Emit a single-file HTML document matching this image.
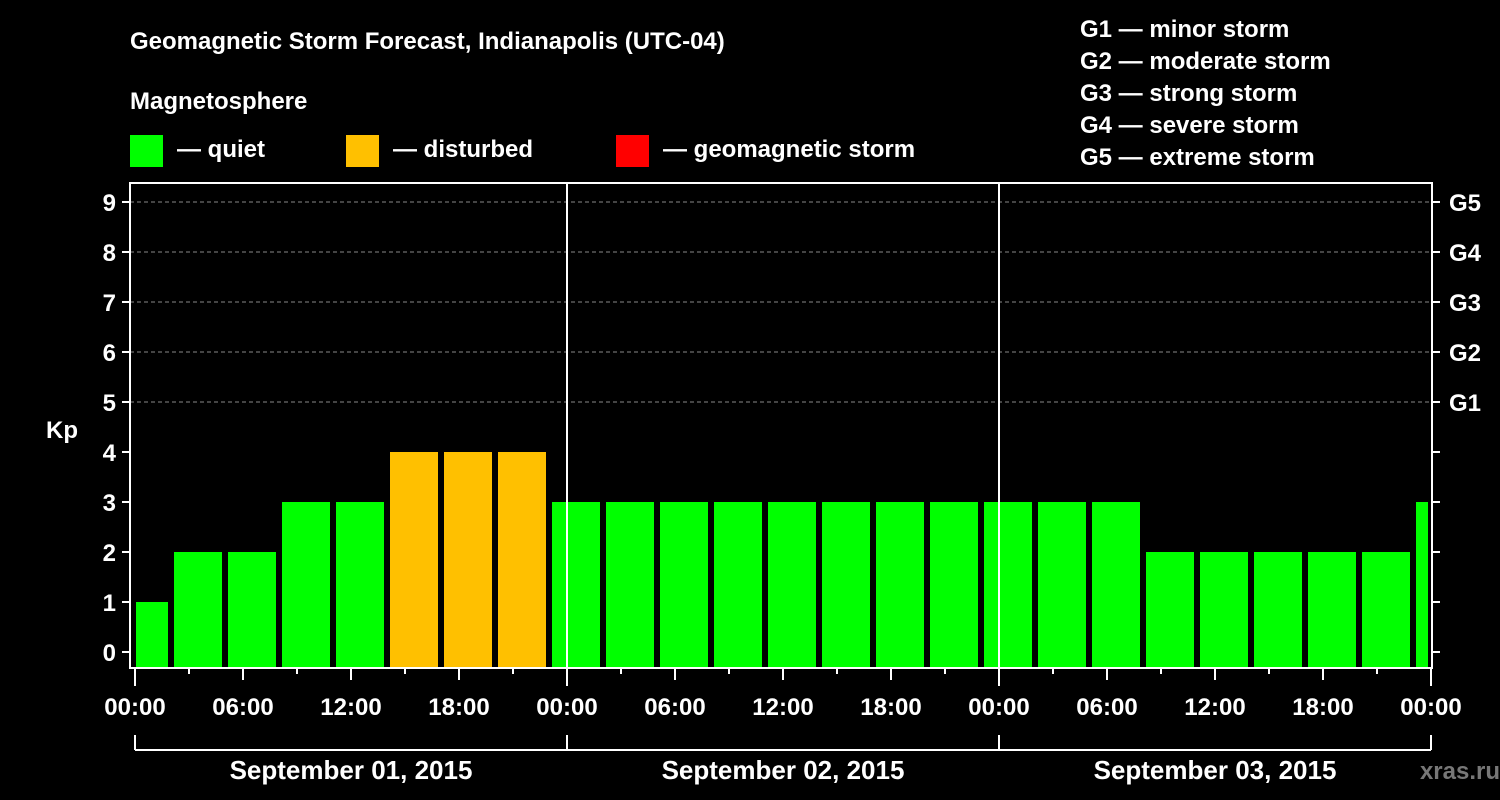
<!DOCTYPE html>
<html><head><meta charset="utf-8"><style>
html,body{margin:0;padding:0;background:#000;width:1500px;height:800px;overflow:hidden}
svg text{font-family:"Liberation Sans",sans-serif;font-weight:bold;fill:#fff}
</style></head><body>
<svg id="chart" width="1500" height="800" xmlns="http://www.w3.org/2000/svg">
<rect width="1500" height="800" fill="#000"/>
<text x="130" y="49" font-size="24">Geomagnetic Storm Forecast, Indianapolis (UTC-04)</text>
<text x="130" y="109" font-size="24">Magnetosphere</text>
<g><rect x="130" y="135" width="33" height="32" fill="#00ff00"/><text x="177" y="157" font-size="24">— quiet</text></g>
<g><rect x="346" y="135" width="33" height="32" fill="#ffc000"/><text x="393" y="157" font-size="24">— disturbed</text></g>
<g><rect x="616" y="135" width="33" height="32" fill="#ff0000"/><text x="663" y="157" font-size="24">— geomagnetic storm</text></g>
<g font-size="24">
<text x="1080" y="37">G1 — minor storm</text>
<text x="1080" y="69">G2 — moderate storm</text>
<text x="1080" y="101">G3 — strong storm</text>
<text x="1080" y="133">G4 — severe storm</text>
<text x="1080" y="165">G5 — extreme storm</text>
</g>
<g id="grid"></g>
<g id="bars"></g>
<g id="axes"></g>
<text x="62" y="438" font-size="24" text-anchor="middle">Kp</text>
<text x="1500" y="779" font-size="24" fill="#777" style="fill:#777" text-anchor="end">xras.ru </text>
</svg>
<script>
const kpValues=[1,2,2,3,3,4,4,4,3,3,3,3,3,3,3,3,3,3,3,2,2,2,2,2,3];
const slotStartHour=-1;
const slotHours=3;
const yTicks=[0,1,2,3,4,5,6,7,8,9];
const gLabels=["G1","G2","G3","G4","G5"];
const xLabels=["00:00","06:00","12:00","18:00","00:00","06:00","12:00","18:00","00:00","06:00","12:00","18:00","00:00"];
const dayLabels=["September 01, 2015","September 02, 2015","September 03, 2015"];

const NS="http://www.w3.org/2000/svg";
const L=130,R=1432,T=183,B=668,X0=135,PXH=18,Y0=652,PXK=50;
const xs=h=>X0+h*PXH, ys=k=>Y0-k*PXK;
function mk(tag,at,parent){const e=document.createElementNS(NS,tag);for(const k in at)e.setAttribute(k,at[k]);parent.appendChild(e);return e;}
const grid=document.getElementById('grid'),bars=document.getElementById('bars'),axes=document.getElementById('axes');
for(let k=5;k<=9;k++){const l=mk('line',{x1:L,x2:R,y1:ys(k),y2:ys(k),stroke:'#888','stroke-dasharray':'4,3','stroke-width':1},grid);

}
kpValues.forEach((v,i)=>{
 const h=slotStartHour+i*slotHours;
 let x1=xs(h)+3,x2=xs(h+slotHours)-3;
 x1=Math.max(x1,L+6);x2=Math.min(x2,R-4);
 const col=v>=5?'#ff0000':(v>=4?'#ffc000':'#00ff00');
 const r=mk('rect',{x:x1,y:ys(v),width:x2-x1,height:B-ys(v),fill:col},bars);
 
 
});
for(const d of [1,2]){const l=mk('line',{x1:xs(24*d),x2:xs(24*d),y1:T,y2:B,stroke:'#fff','stroke-width':2},axes);

}
const frame=mk('rect',{x:L,y:T,width:R-L,height:B-T,fill:'none',stroke:'#fff','stroke-width':2},axes);


yTicks.forEach(k=>{
 mk('line',{x1:L-8,x2:L,y1:ys(k),y2:ys(k),stroke:'#fff','stroke-width':2},axes);
 mk('line',{x1:R,x2:R+8,y1:ys(k),y2:ys(k),stroke:'#fff','stroke-width':2},axes);
 const t=mk('text',{x:L-14,y:ys(k)+9,'font-size':24,'text-anchor':'end'},axes);t.textContent=k;
 
 
});
gLabels.forEach((g,i)=>{const t=mk('text',{x:1449,y:ys(5+i)+9,'font-size':24},axes);t.textContent=g;
 
 });
for(let h=0;h<=72;h+=3){const len=h%24===0?18:(h%6===0?12:6);
 mk('line',{x1:xs(h),x2:xs(h),y1:B,y2:B+len,stroke:'#fff','stroke-width':2},axes);}
xLabels.forEach((s,i)=>{const t=mk('text',{x:xs(i*6),y:715,'font-size':24,'text-anchor':'middle'},axes);t.textContent=s;
 
 });
mk('line',{x1:xs(0),x2:xs(72),y1:750,y2:750,stroke:'#fff','stroke-width':2},axes);
for(let d=0;d<=3;d++)mk('line',{x1:xs(24*d),x2:xs(24*d),y1:735,y2:750,stroke:'#fff','stroke-width':2},axes);
dayLabels.forEach((s,i)=>{const t=mk('text',{x:xs(24*i+12),y:779,'font-size':26,'text-anchor':'middle'},axes);t.textContent=s;
 
 });
</script>
</body></html>
